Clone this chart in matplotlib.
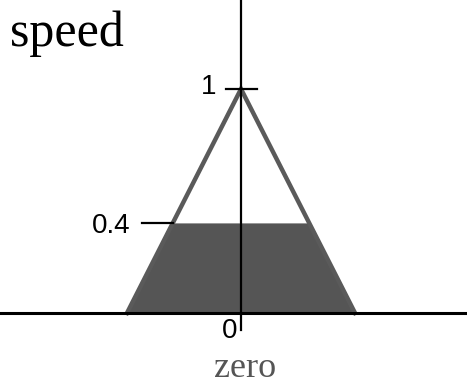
import matplotlib.pyplot as plt
import numpy as np

# Membership function "zero" and the cut level
set_label = "zero"
triangle_x = [-1.0, 0.0, 1.0]
triangle_y = [0.0, 1.0, 0.0]
cut_level = 0.4
tick_values = [1.0, 0.4]
tick_labels = ["1", "0.4"]
origin_label = "0"
title = "speed"

fig = plt.figure(figsize=(4.67, 3.86), dpi=100)
ax = fig.add_axes([0, 0, 1, 1])
ax.set_xlim(-241 / 114, (467 - 241) / 114)
ax.set_ylim(-73 / 224, 313 / 224)
ax.axis("off")

# clipped area under the triangle
left, peak, right = triangle_x
fill_x = [left, left + (peak - left) * cut_level, right - (right - peak) * cut_level, right]
fill_y = [0, cut_level, cut_level, 0]
ax.fill(fill_x, fill_y, color="#555555", lw=0, zorder=1)

ax.plot(triangle_x, triangle_y, color="#5a5a5a", lw=3.2, solid_joinstyle="miter", zorder=2)

# axes lines
ax.axhline(0, color="black", lw=2.2, zorder=3)
ax.plot([0, 0], [-17 / 224, 2], color="black", lw=1.6, zorder=3)

# tick marks
ax.plot([-0.13, 0.14], [tick_values[0], tick_values[0]], color="black", lw=1.6, zorder=3)
ax.plot([-0.87, -(1 - tick_values[1])], [tick_values[1], tick_values[1]], color="black", lw=1.6, zorder=3)

sans = "Liberation Sans"
serif = "Liberation Serif"
ax.text(-0.22, tick_values[0] + 0.01, tick_labels[0], ha="right", va="center",
        fontsize=20, family=sans)
ax.text(-0.97, tick_values[1] - 0.01, tick_labels[1], ha="right", va="center",
        fontsize=20, family=sans)
ax.text(-0.1, -0.08, origin_label, ha="center", va="center", fontsize=20, family=sans)

fig.text(10 / 467, 1 - 46 / 386, title, ha="left", va="baseline",
         fontsize=36, family=serif)
fig.text(245 / 467, 1 - 377 / 386, set_label, ha="center", va="baseline",
         fontsize=26, family=serif, color="#555555")

fig.savefig("out.png", dpi=100)
